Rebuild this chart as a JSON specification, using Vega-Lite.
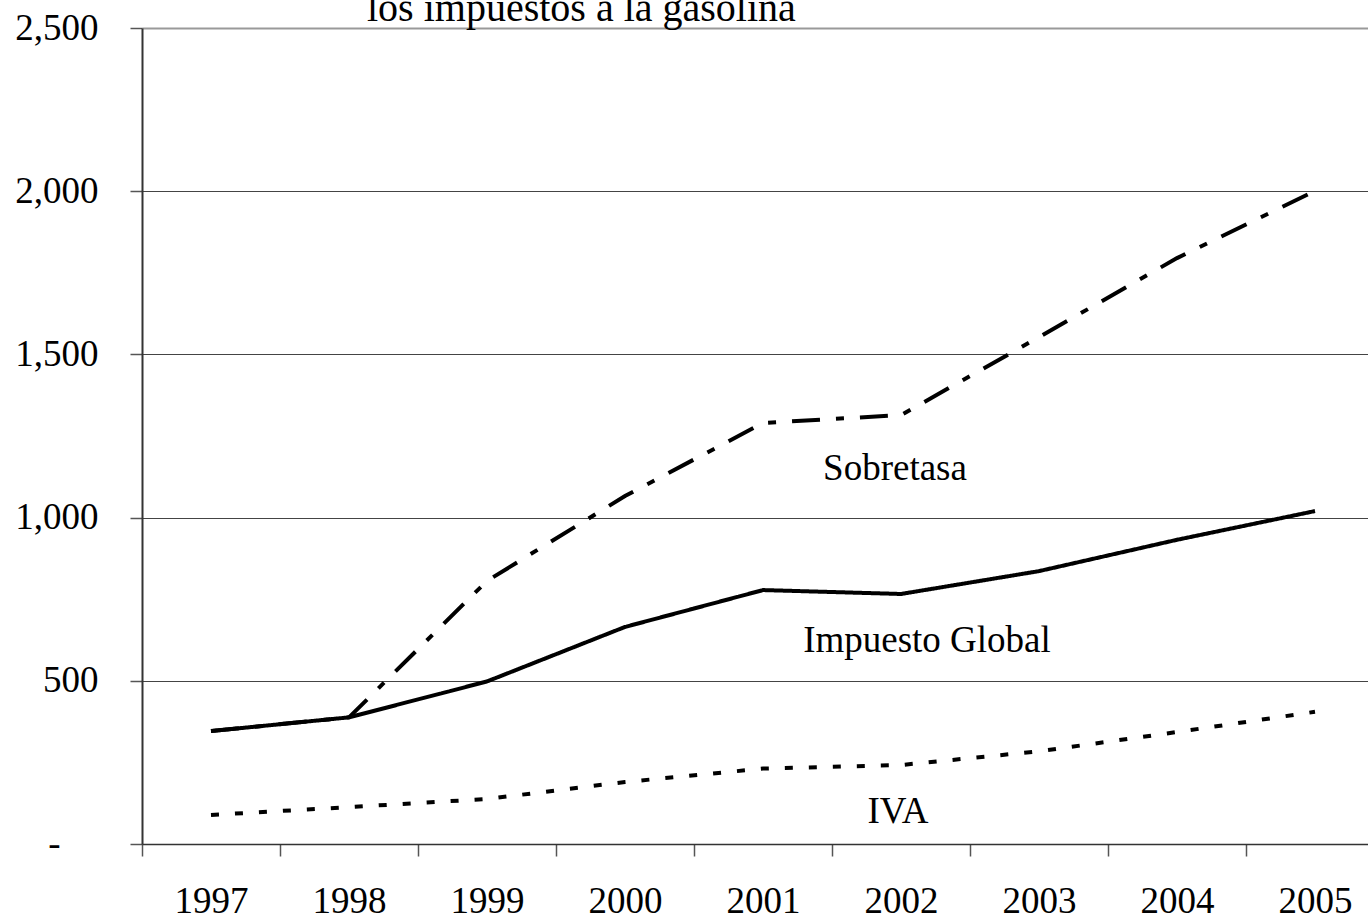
{
  "$schema": "https://vega.github.io/schema/vega-lite/v6.json",
  "autosize": "none",
  "width": 1226,
  "height": 816,
  "padding": {"left": 142, "top": 28, "right": 0, "bottom": 74},
  "background": "white",
  "title": {
    "text": "los impuestos a la gasolina",
    "font": "Liberation Serif",
    "fontSize": 40,
    "fontWeight": "normal",
    "color": "black",
    "anchor": "start",
    "frame": "group",
    "dx": 225,
    "dy": 48,
    "baseline": "alphabetic",
    "offset": -4
  },
  "config": {
    "view": {"stroke": null},
    "axis": {
      "labelFont": "Liberation Serif",
      "labelColor": "black",
      "titleFont": "Liberation Serif"
    }
  },
  "datasets": {
    "series": [
      {"year": "1997", "series": "Sobretasa", "value": 346},
      {"year": "1998", "series": "Sobretasa", "value": 388},
      {"year": "1999", "series": "Sobretasa", "value": 806},
      {"year": "2000", "series": "Sobretasa", "value": 1066},
      {"year": "2001", "series": "Sobretasa", "value": 1290},
      {"year": "2002", "series": "Sobretasa", "value": 1314},
      {"year": "2003", "series": "Sobretasa", "value": 1553},
      {"year": "2004", "series": "Sobretasa", "value": 1795},
      {"year": "2005", "series": "Sobretasa", "value": 2001},
      {"year": "1997", "series": "Impuesto Global", "value": 346},
      {"year": "1998", "series": "Impuesto Global", "value": 388},
      {"year": "1999", "series": "Impuesto Global", "value": 498},
      {"year": "2000", "series": "Impuesto Global", "value": 665},
      {"year": "2001", "series": "Impuesto Global", "value": 778},
      {"year": "2002", "series": "Impuesto Global", "value": 766},
      {"year": "2003", "series": "Impuesto Global", "value": 836},
      {"year": "2004", "series": "Impuesto Global", "value": 932},
      {"year": "2005", "series": "Impuesto Global", "value": 1020},
      {"year": "1997", "series": "IVA", "value": 89},
      {"year": "1998", "series": "IVA", "value": 113},
      {"year": "1999", "series": "IVA", "value": 138},
      {"year": "2000", "series": "IVA", "value": 190},
      {"year": "2001", "series": "IVA", "value": 231},
      {"year": "2002", "series": "IVA", "value": 242},
      {"year": "2003", "series": "IVA", "value": 284},
      {"year": "2004", "series": "IVA", "value": 343},
      {"year": "2005", "series": "IVA", "value": 405}
    ],
    "labels": [
      {"year": "2002", "label": "Sobretasa", "value": 1115, "shift": -6},
      {"year": "2002", "label": "Impuesto Global", "value": 588, "shift": 26},
      {"year": "2002", "label": "IVA", "value": 64, "shift": -3}
    ]
  },
  "layer": [
    {
      "data": {"name": "series"},
      "mark": {"type": "line", "color": "black", "strokeWidth": 4, "strokeCap": "butt"},
      "encoding": {
        "x": {
          "field": "year",
          "type": "nominal",
          "sort": null,
          "scale": {"type": "band", "range": [0, 1242], "paddingInner": 0, "paddingOuter": 0},
          "axis": {
            "title": null,
            "labelAngle": 0,
            "labelFontSize": 37,
            "labelBaseline": "alphabetic",
            "labelPadding": 56,
            "tickBand": "extent",
            "tickSize": 12,
            "tickColor": "#555",
            "tickWidth": 1.5,
            "domainColor": "#333",
            "domainWidth": 1.5,
            "grid": false
          }
        },
        "y": {
          "field": "value",
          "type": "quantitative",
          "scale": {"domain": [0, 2500], "nice": false},
          "axis": {
            "title": null,
            "values": [0, 500, 1000, 1500, 2000, 2500],
            "labelExpr": "datum.value === 0 ? '-' : format(datum.value, ',')",
            "labelFontSize": 37,
            "labelPadding": {"condition": {"test": "datum.value === 0", "value": 70}, "value": 32},
            "tickSize": 12,
            "tickColor": "#555",
            "tickWidth": 1.5,
            "domainColor": "#333",
            "domainWidth": 2,
            "grid": true,
            "gridColor": {"condition": {"test": "datum.value === 2500", "value": "#999"}, "value": "#444"},
            "gridWidth": {"condition": {"test": "datum.value === 2500", "value": 2}, "value": 1.2}
          }
        },
        "detail": {"field": "series"},
        "strokeDash": {
          "field": "series",
          "type": "nominal",
          "scale": {
            "domain": ["Sobretasa", "Impuesto Global", "IVA"],
            "range": [[28, 16, 8, 16], [1, 0], [8, 16]]
          },
          "legend": null
        }
      }
    },
    {
      "data": {"name": "labels"},
      "mark": {
        "type": "text",
        "font": "Liberation Serif",
        "fontSize": 37,
        "color": "black",
        "align": "center",
        "baseline": "alphabetic"
      },
      "encoding": {
        "x": {"field": "year", "type": "nominal", "sort": null},
        "y": {"field": "value", "type": "quantitative"},
        "text": {"field": "label"},
        "xOffset": {"field": "shift", "type": "quantitative", "scale": {"domain": [-69, 69], "range": [0, 138]}}
      }
    }
  ]
}
